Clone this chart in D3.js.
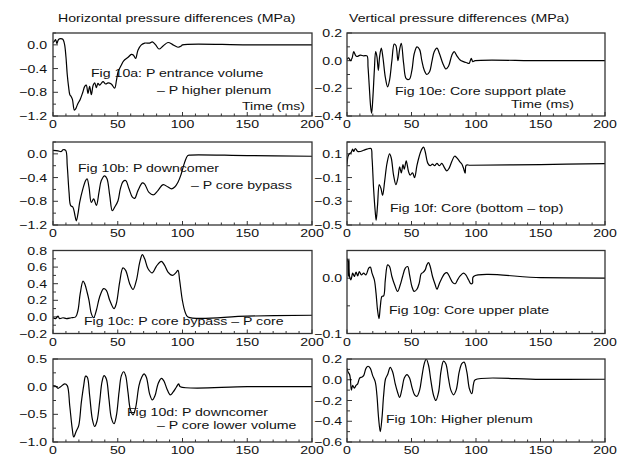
<!DOCTYPE html>
<html><head><meta charset="utf-8">
<script src="https://cdn.jsdelivr.net/npm/d3@7"></script>
<style>
body{margin:0;background:#fff;}
text{font-family:"Liberation Sans",Arial,Helvetica,sans-serif;fill:#111;}
</style></head>
<body><svg id="c" width="627" height="460"></svg>
<script>
// ---------- data ----------
const timeTicks = [0, 50, 100, 150, 200];
const timeMinorStep = 10;

const titles = ["Horizontal pressure differences (MPa)", "Vertical pressure differences (MPa)"];

const seriesA = [[0,0.04],[1,0.06],[2,0.09],[3,0.02],[4,0.08],[5,0.1],[7,0.1],[8,0.08],[9,0.0],[10,-0.2],[11,-0.5],[12,-0.7],[13,-0.84],[14,-0.87],[15,-0.92],[16.5,-1.1],[17.5,-1.08],[19,-1.0],[21,-0.92],[23,-0.8],[24.5,-0.7],[25.7,-0.68],[27,-0.82],[28.3,-0.7],[29.6,-0.84],[31,-0.68],[32.2,-0.64],[33.5,-0.72],[34.7,-0.65],[36,-0.68],[38.6,-0.62],[40.7,-0.66],[42.5,-0.64],[45,-0.66],[47.6,-0.73],[49,-0.6],[50.2,-0.46],[52.8,-0.34],[54.6,-0.27],[58,-0.21],[60.5,-0.16],[62,-0.17],[63.8,-0.23],[65.6,-0.09],[68.2,0.0],[70.8,0.03],[74.6,0.03],[76.7,0.05],[79.3,0.0],[81.8,-0.07],[85,-0.02],[88.8,0.04],[92.7,0.0],[96.5,-0.04],[99,-0.02],[100,0.0],[150,0.0],[200,0.0]];

const seriesB = [[0,0.06],[3.9,0.05],[6.4,0.04],[7.7,0.07],[9.8,0.06],[11,-0.2],[12.4,-0.65],[13.6,-0.87],[15.4,-0.9],[16.7,-1.01],[18,-1.13],[19.3,-1.01],[20.6,-0.82],[22.7,-0.62],[25.2,-0.45],[26.3,-0.42],[27.8,-0.56],[29.6,-0.82],[31.4,-0.76],[33.5,-0.87],[35.5,-0.65],[37.3,-0.45],[39.9,-0.37],[41.7,-0.42],[43.8,-0.7],[45.8,-0.96],[47.6,-0.9],[50.2,-0.79],[52,-0.59],[54,-0.47],[56.1,-0.45],[58.7,-0.59],[61.3,-0.73],[63.1,-0.75],[65.6,-0.62],[69,-0.49],[70.8,-0.51],[74.1,-0.65],[77.7,-0.69],[81,-0.62],[85,-0.52],[88.8,-0.56],[91.4,-0.59],[94,-0.56],[96.5,-0.48],[99,-0.34],[101.7,-0.14],[104,-0.03],[106,-0.02],[150,-0.03],[200,-0.04]];

const seriesC = [[0,-0.01],[2,-0.02],[3.9,0.01],[5,-0.02],[7.7,-0.01],[10.3,-0.02],[14,-0.01],[17.5,0.0],[19.3,0.08],[21,0.28],[23.2,0.43],[24.5,0.4],[26.3,0.3],[27.8,0.2],[29.6,0.04],[31.4,-0.01],[33.5,0.08],[36,0.24],[39.1,0.34],[41.2,0.32],[43.8,0.2],[47.1,0.1],[48.9,0.16],[51.5,0.42],[54,0.59],[56.1,0.56],[59.2,0.4],[61.8,0.33],[64.4,0.44],[67,0.66],[69,0.75],[70.8,0.7],[73.4,0.58],[76.7,0.53],[79.8,0.61],[83.7,0.67],[86.2,0.62],[88.8,0.54],[92.2,0.5],[94.8,0.53],[96.5,0.56],[97.8,0.44],[99.9,0.2],[102,0.06],[104.2,0.0],[150,0.01],[200,0.02]];

const seriesD = [[0,0.02],[2,0.01],[3.9,-0.03],[5.9,0.0],[9,0.05],[11,0.02],[12.9,-0.34],[14.9,-0.77],[16,-0.91],[18,-0.8],[19.8,-0.71],[21.9,-0.28],[23.7,0.02],[25.2,0.19],[26.5,0.17],[28.3,-0.16],[30.4,-0.59],[32.2,-0.72],[34,-0.62],[36,-0.28],[37.8,0.08],[39.4,0.2],[41.2,0.14],[43.2,-0.22],[45,-0.56],[47.1,-0.67],[48.9,-0.53],[51,-0.1],[52.8,0.2],[54.6,0.27],[56.1,0.2],[57.9,-0.1],[59.7,-0.41],[61.8,-0.51],[63.8,-0.38],[66.4,0.02],[68.5,0.17],[70.3,0.23],[72.1,0.17],[74.6,-0.13],[76.7,-0.24],[78.8,-0.16],[81.1,0.05],[83.7,0.15],[85.5,0.11],[88,-0.04],[90.6,-0.15],[92.7,-0.1],[95.2,-0.01],[97,0.05],[98.3,0.0],[150,0.0],[200,0.0]];

const seriesE = [[0,0.01],[1.3,0.02],[2.6,0.0],[3.9,0.017],[5.2,0.065],[6.5,0.04],[7.7,0.03],[10.3,0.04],[12.9,0.035],[15.5,0.035],[16.3,-0.045],[17.3,-0.19],[18.3,-0.33],[19.1,-0.38],[20.1,-0.26],[21.2,-0.07],[22.2,0.065],[23.2,0.03],[24.3,-0.07],[25.3,0.03],[26.6,0.09],[27.9,0.02],[29.7,-0.12],[31.5,-0.19],[33,-0.14],[34.8,0.0],[36.6,0.12],[37.9,0.11],[39.5,0.0],[40.8,0.08],[42.1,0.125],[43.9,-0.02],[45.9,-0.13],[48.3,-0.135],[50.3,-0.07],[52.1,0.05],[54.2,0.1],[56.3,0.08],[58,0.0],[59.9,-0.07],[61.9,-0.1],[64,-0.08],[65.8,-0.007],[67.6,0.065],[69.7,0.09],[71.7,0.05],[74.3,-0.02],[76.6,-0.06],[78.7,-0.04],[81.3,0.04],[83.1,0.065],[85.2,0.035],[87.7,0.005],[90.3,-0.007],[92.9,-0.015],[94.7,-0.02],[96.3,0.017],[97.5,-0.007],[99.4,0.0],[150,0.0],[200,0.0]];

const seriesF = [[0,0.01],[0.8,0.08],[1.8,0.1],[3.1,0.11],[4.4,0.14],[5.2,0.12],[6.5,0.145],[8.3,0.12],[10.3,0.12],[12.9,0.13],[15.5,0.14],[18.6,0.145],[19.4,0.065],[20.6,-0.19],[21.9,-0.39],[22.6,-0.46],[23.7,-0.33],[25,-0.16],[26.3,-0.19],[27.6,-0.25],[29.2,-0.13],[31,0.02],[33,0.1],[34.3,0.065],[36.1,-0.08],[37.9,-0.16],[39.5,-0.1],[40.8,-0.01],[42.1,-0.06],[43.4,0.01],[44.4,-0.03],[45.9,0.04],[47.7,-0.05],[49,-0.08],[50.8,-0.06],[52.4,-0.1],[54.2,0.0],[56,0.08],[58,0.14],[59.4,0.157],[60.6,0.12],[62.7,0.02],[64.5,0.0],[66.3,0.014],[67.9,0.0],[69.7,0.02],[71.7,0.0],[73.5,0.02],[75.4,-0.014],[77.4,-0.043],[79.2,-0.02],[81.3,0.037],[83.4,0.08],[85.2,0.066],[87.2,0.037],[89,0.014],[90.3,-0.02],[91.6,-0.063],[92.4,0.004],[95.5,0.004],[150,0.01],[200,0.017]];

const seriesG = [[0,0.03],[0.5,0.035],[1,0.003],[1.5,0.035],[2,0.003],[3.1,-0.003],[4.4,0.009],[5.7,0.003],[7,0.011],[8.3,0.004],[9.5,0.012],[11.1,0.006],[12.9,0.009],[14.7,0.006],[16.8,0.018],[18.1,0.02],[19.4,0.009],[21.2,-0.003],[22.5,-0.027],[23.7,-0.058],[24.8,-0.073],[25.8,-0.052],[27.1,-0.033],[28.4,-0.032],[29.7,-0.003],[31.5,0.024],[33,0.021],[34.8,0.003],[36.9,-0.012],[39.2,-0.024],[41.3,-0.012],[43.1,0.003],[45.2,0.018],[47,0.021],[48.5,0.006],[50.3,-0.015],[52.1,-0.024],[54.2,-0.02],[56,-0.009],[57.5,0.008],[58.8,0.01],[60.6,0.015],[61.9,0.024],[63.2,0.028],[64.5,0.021],[66.3,0.003],[68.4,-0.012],[69.7,-0.02],[71.7,-0.009],[73.5,0.0],[75.6,0.008],[77.4,0.01],[79.4,0.003],[82,-0.008],[83.9,-0.01],[85.7,-0.003],[87.7,0.004],[90.3,0.009],[92.1,0.006],[94.2,-0.003],[96,-0.01],[97.3,-0.009],[98.1,0.003],[150,0.001],[200,0.0]];

const seriesH = [[0,0.11],[0.8,0.075],[2,0.05],[2.6,0.01],[3.4,-0.1],[4.4,-0.055],[5.7,-0.08],[7,-0.055],[8.3,-0.04],[9.8,0.016],[11.6,0.026],[12.9,0.04],[14.7,0.11],[16.3,0.13],[18.1,0.11],[19.9,0.04],[21.9,-0.02],[23.2,-0.15],[24.5,-0.37],[25.8,-0.5],[27.1,-0.37],[28.4,-0.15],[29.9,0.01],[31.5,0.05],[33.5,0.12],[35.4,0.075],[37.4,-0.04],[39.2,-0.12],[40.8,-0.17],[42.6,-0.09],[44.4,0.016],[46.5,0.05],[48.5,0.016],[50.3,-0.07],[52.4,-0.145],[54.2,-0.16],[56.3,-0.1],[58,0.026],[59.9,0.155],[61.4,0.2],[63.2,0.14],[65,-0.006],[67.1,-0.15],[68.9,-0.2],[71,-0.12],[72.8,0.075],[74.8,0.18],[76.6,0.155],[78.7,0.01],[80.5,-0.1],[82.6,-0.145],[84.6,-0.1],[87,0.075],[89,0.155],[90.8,0.17],[92.9,0.075],[94.9,-0.087],[96.8,-0.135],[98.1,-0.04],[99.4,0.0],[150,0.003],[200,0.005]];

const domainsY = [[-1.2,0.2],[-1.2,0.2],[-0.2,0.8],[-1.0,0.5],[-0.4,0.2],[-0.5,0.2],[-0.1,0.05],[-0.6,0.2]];
const ticksY = [[0.0,-0.4,-0.8,-1.2],[0.0,-0.4,-0.8,-1.2],[0.8,0.6,0.4,0.2,0.0,-0.2],[0.5,0.0,-0.5,-1.0],[0.2,0.0,-0.2,-0.4],[0.1,-0.1,-0.3,-0.5],[0.0,-0.1],[0.2,0.0,-0.2,-0.4,-0.6]];
const minorTicksY = [[0.2,-0.2,-0.6,-1.0],[0.2,-0.2,-0.6,-1.0],[0.7,0.5,0.3,0.1,-0.1],[0.25,-0.25,-0.75],[0.1,-0.1,-0.3],[0.2,0.0,-0.2,-0.4],[-0.05],[0.1,-0.1,-0.3,-0.5]];
const captions = [
  ["Fig 10a: P entrance volume","\u2013 P higher plenum","Time (ms)"],
  ["Fig 10b: P downcomer","\u2013 P core bypass"],
  ["Fig 10c: P core bypass \u2013 P core"],
  ["Fig 10d: P downcomer","\u2013 P core lower volume"],
  ["Fig 10e: Core support plate","Time (ms)"],
  ["Fig 10f: Core (bottom \u2013 top)"],
  ["Fig 10g: Core upper plate"],
  ["Fig 10h: Higher plenum"]
];
const allSeries = [seriesA,seriesB,seriesC,seriesD,seriesE,seriesF,seriesG,seriesH];

// ---------- layout ----------
const colX = [[53,312],[347,605]];
const rowTop = [33,142,250.5,359];
const panelH = 83;
// caption positions relative to panel left/top (px)
const captionPos = [
  [[38,44],[104,61],[189,77]],
  [[25,30],[138,47]],
  [[31,74]],
  [[74,57],[104,70]],
  [[48,62],[164,75]],
  [[43,70]],
  [[42,63.5]],
  [[39,64]]
];
const SX = 1.25, FS = 11.3;

const svg = d3.select("#c");
function txt(g, x, y, s, anchor) {
  return g.append("text")
    .attr("transform", `translate(${x},${y}) scale(${SX},1)`)
    .attr("text-anchor", anchor || "start")
    .attr("font-size", FS)
    .text(s);
}
const fmt = d3.format(".1f");

txt(svg, 58, 22, titles[0]);
txt(svg, 349, 22, titles[1]);

allSeries.forEach((data, i) => {
  const col = i < 4 ? 0 : 1, row = i % 4;
  const [x0, x1] = colX[col];
  const top = rowTop[row], bot = top + panelH;
  const x = d3.scaleLinear().domain([0,200]).range([x0,x1]);
  const y = d3.scaleLinear().domain(domainsY[i]).range([bot,top]);
  const g = svg.append("g");

  // x axis ticks (inward)
  const minorX = d3.range(0, 201, timeMinorStep);
  g.append("g").selectAll("line").data(minorX).join("line")
    .attr("x1", d => x(d)).attr("x2", d => x(d))
    .attr("y1", bot).attr("y2", d => bot - (d % 50 === 0 ? 4 : 2.5))
    .attr("stroke", "#333").attr("stroke-width", 1);
  timeTicks.forEach(t => txt(g, x(t), bot + 12, String(t), "middle"));

  // y ticks (inward)
  g.append("g").selectAll("line").data(ticksY[i]).join("line")
    .attr("x1", x0).attr("x2", x0 + 5).attr("y1", d => y(d)).attr("y2", d => y(d))
    .attr("stroke", "#333");
  g.append("g").selectAll("line").data(minorTicksY[i]).join("line")
    .attr("x1", x0).attr("x2", x0 + 3).attr("y1", d => y(d)).attr("y2", d => y(d))
    .attr("stroke", "#333");
  const labX = col === 0 ? x0 - 6 : x0 - 5;
  ticksY[i].forEach(v => txt(g, labX, y(v) + 4, fmt(v), "end"));

  // clip + curve
  const cid = "clip" + i;
  svg.append("clipPath").attr("id", cid).append("rect")
    .attr("x", x0).attr("y", top).attr("width", x1 - x0).attr("height", panelH);
  const line = d3.line().x(d => x(d[0])).y(d => y(d[1])).curve(d3.curveCatmullRom.alpha(0.5));
  g.append("path").datum(data).attr("d", line).attr("clip-path", `url(#${cid})`)
    .attr("fill", "none").attr("stroke", "#000").attr("stroke-width", 1.2);

  // frame
  g.append("rect").attr("x", x0).attr("y", top).attr("width", x1 - x0).attr("height", panelH)
    .attr("fill", "none").attr("stroke", "#333").attr("stroke-width", 1.3);

  captions[i].forEach((c, k) => txt(g, x0 + captionPos[i][k][0], top + captionPos[i][k][1], c));
});
</script></body></html>
